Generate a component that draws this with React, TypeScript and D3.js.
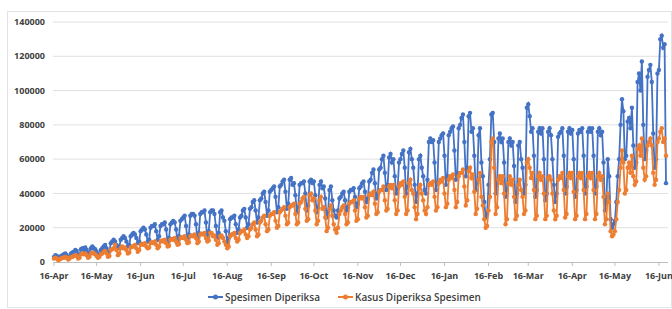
import * as d3 from "d3";

// daily data from 16 Apr 2020, values in thousands
const startDate = "2020-04-16";

const spesimenRibu = [
  3, 4, 3.5, 2, 2.5, 3.5, 4,
  4.5, 5, 4, 2.5, 3, 5, 5.5,
  6, 7, 6.5, 4, 4.5, 7.5, 8,
  7, 8.5, 7, 5, 5.5, 8, 9,
  8, 7.5, 6, 4, 4.5, 7, 8,
  9, 10, 8, 5, 6, 11, 12,
  13, 12, 10, 8, 9, 13, 14,
  15, 14, 12, 9, 10, 15, 16,
  17, 16, 14, 11, 12, 18, 19,
  20, 19, 16, 12, 13, 20, 21,
  21, 22, 18, 13, 15, 21, 22,
  22, 23, 19, 11, 14, 22, 23,
  24, 23, 19, 11, 15, 24, 25,
  26, 27, 21, 12, 16, 27, 28,
  28, 27, 22, 13, 17, 28, 29,
  29, 30, 23, 13, 18, 29, 30,
  30, 28, 21, 14, 17, 29, 30,
  26, 24, 18, 11, 14, 25, 26,
  26, 27, 22, 17, 19, 26, 27,
  30, 31, 26, 20, 22, 31, 32,
  35, 36, 30, 23, 26, 36, 37,
  40, 41, 35, 27, 30, 41, 42,
  43, 44, 38, 29, 32, 44, 45,
  47, 48, 41, 31, 34, 48, 49,
  45, 46, 39, 29, 32, 45, 46,
  46, 47, 40, 30, 33, 47, 48,
  46, 47, 39, 29, 32, 45, 47,
  43, 44, 37, 26, 29, 42, 44,
  36, 30, 27, 26, 30, 37, 38,
  40, 41, 36, 30, 32, 41, 42,
  42, 43, 38, 32, 34, 43, 44,
  46, 47, 41, 35, 37, 47, 48,
  52, 54, 46, 37, 40, 54, 55,
  60, 62, 52, 42, 45, 61, 63,
  58, 60, 50, 40, 43, 58, 60,
  63, 65, 55, 40, 44, 64, 66,
  60, 55, 45, 35, 40, 60, 62,
  55, 50, 42, 40, 48, 70, 72,
  70, 71, 58, 42, 46, 70, 72,
  74, 75, 62, 45, 50, 74, 76,
  78, 79, 65, 48, 52, 78, 80,
  84, 86, 70, 50, 55, 85, 87,
  76, 78, 62, 42, 46, 74, 78,
  58, 50, 35, 26, 28, 45, 60,
  86, 87, 70, 40, 45, 72, 75,
  70, 72, 58, 38, 42, 70, 72,
  68, 70, 56, 35, 40, 68, 70,
  60, 55, 40, 45, 90, 92, 85,
  76, 78, 62, 38, 42, 76, 78,
  75, 78, 60, 36, 40, 76, 78,
  74, 60, 45, 35, 40, 73, 75,
  76, 78, 62, 40, 44, 76, 78,
  75, 77, 60, 38, 42, 75, 77,
  76, 78, 62, 40, 44, 76, 78,
  76, 78, 62, 40, 44, 76, 78,
  74, 76, 58, 30, 35, 60, 50,
  25, 20, 22, 24, 35, 50, 60,
  80, 95, 88, 60, 62, 82, 84,
  78, 90, 68, 55, 58, 105, 110,
  100, 117, 80, 60, 65, 108, 112,
  115, 105, 75, 55, 60, 110, 112,
  130, 132, 125, 127, 46,
];

const kasusRibu = [
  2, 2.5, 2, 1, 1.5, 2, 2.5,
  2.5, 3, 2.5, 1.5, 2, 3, 3,
  3.5, 4, 3.5, 2, 2.5, 4.5, 5,
  4.5, 5, 4, 2.5, 3, 5, 5.5,
  5, 4.5, 3.5, 2.5, 3, 4.5, 5,
  6, 6.5, 5, 3, 3.5, 7, 7.5,
  8, 10, 7, 4, 5, 8, 9,
  8, 8.5, 7, 5, 5.5, 8.5, 9,
  9, 10, 8, 6, 7, 10, 10.5,
  10, 11, 9, 8, 8.5, 11, 11.5,
  11, 12, 10, 8, 9, 12, 12.5,
  12, 13, 11, 9, 9.5, 13, 13.5,
  13, 14, 12, 10, 10.5, 14, 14.5,
  14, 15, 13, 11, 11.5, 15, 15.5,
  15, 16, 14, 11, 12, 16, 16.5,
  16, 17, 14, 12, 12.5, 17, 17,
  15, 15.5, 13, 10, 11, 15, 15.5,
  14, 12, 10, 8, 9, 15, 16,
  16, 17, 14, 12, 13, 17, 18,
  18, 19, 16, 14, 15, 19, 20,
  22, 23, 19, 15, 16, 23, 24,
  26, 27, 22, 18, 19, 27, 28,
  28, 29, 24, 20, 21, 29, 30,
  31, 32, 27, 22, 23, 32, 33,
  33, 34, 28, 22, 23, 34, 35,
  37, 38, 31, 24, 25, 39, 40,
  36, 37, 30, 22, 24, 36, 38,
  31, 32, 26, 18, 20, 31, 33,
  27, 22, 19, 17, 20, 28, 30,
  32, 33, 28, 22, 23, 34, 35,
  35, 36, 30, 24, 25, 37, 38,
  37, 38, 32, 26, 27, 39, 40,
  39, 41, 34, 28, 29, 41, 42,
  42, 44, 36, 30, 31, 44, 45,
  43, 45, 36, 28, 30, 44, 46,
  45, 47, 38, 28, 30, 46, 48,
  42, 40, 32, 25, 28, 43, 45,
  40, 36, 30, 28, 32, 45, 46,
  45, 47, 38, 30, 32, 46, 48,
  47, 49, 40, 32, 34, 48, 50,
  49, 51, 42, 32, 35, 50, 52,
  52, 54, 44, 33, 36, 53, 55,
  49, 51, 41, 28, 31, 48, 52,
  38, 33, 25, 20, 21, 30, 38,
  70, 72, 55, 28, 32, 48, 50,
  46, 50, 40, 22, 25, 46, 50,
  45, 48, 38, 25, 27, 45, 48,
  42, 38, 28, 30, 58, 60, 55,
  49, 52, 42, 25, 27, 50, 52,
  48, 50, 40, 25, 27, 49, 50,
  48, 40, 30, 25, 27, 48, 50,
  49, 52, 42, 26, 28, 50, 52,
  49, 52, 41, 25, 27, 50, 52,
  49, 52, 42, 25, 28, 50, 52,
  49, 52, 42, 25, 28, 50, 52,
  48, 50, 38, 22, 25, 40, 35,
  18, 15, 16, 18, 25, 35, 42,
  55, 65, 58, 40, 42, 55, 58,
  52, 62, 50, 45, 47, 66, 68,
  62, 72, 55, 48, 50, 68, 70,
  72, 68, 52, 45, 48, 70, 72,
  76, 78, 70, 72, 62,
];

const tickDates = [
  "2020-04-16", "2020-05-16", "2020-06-16", "2020-07-16", "2020-08-16",
  "2020-09-16", "2020-10-16", "2020-11-16", "2020-12-16", "2021-01-16",
  "2021-02-16", "2021-03-16", "2021-04-16", "2021-05-16", "2021-06-16",
];
const yTicks = [0, 20000, 40000, 60000, 80000, 100000, 120000, 140000];

const seriesNames = ["Spesimen Diperiksa", "Kasus Diperiksa Spesimen"];
const colors = ["#4472C4", "#ED7D31"];

const W = 672;
const H = 309;
const parse = d3.timeParse("%Y-%m-%d");
const fmt = d3.timeFormat("%d-%b");

export default function App() {
  const start = parse(startDate)!;
  const days = spesimenRibu.map((_, i) => d3.timeDay.offset(start, i));

  const x = d3
    .scaleTime()
    .domain([start, days[days.length - 1]])
    .range([54, 666]);
  const y = d3.scaleLinear().domain([0, 140000]).range([262, 22]);

  const series = [spesimenRibu, kasusRibu].map((vals) =>
    vals.map((v, i) => ({ date: days[i], value: v * 1000 }))
  );

  const line = d3
    .line<{ date: Date; value: number }>()
    .x((d) => x(d.date))
    .y((d) => y(d.value));

  const font = "'Open Sans', 'Liberation Sans', sans-serif";

  return (
    <svg
      width={W}
      height={H}
      style={{ position: "absolute", left: 0, top: 0, background: "#fff" }}
      fontFamily={font}
    >
      <rect x={7.5} y={11.5} width={664} height={296} fill="#fff" stroke="#e3e3e3" />

      {yTicks.map((t) => (
        <g key={t}>
          {t > 0 && (
            <line x1={53} x2={668} y1={y(t)} y2={y(t)} stroke="#e0e0e0" strokeWidth={1} />
          )}
          <text
            x={45}
            y={y(t)}
            dy="0.35em"
            textAnchor="end"
            fontSize={9}
            fontWeight="bold"
            fill="#404040"
          >
            {t}
          </text>
        </g>
      ))}

      <line x1={53} x2={668} y1={262.5} y2={262.5} stroke="#bfbfbf" />
      {tickDates.map((s) => {
        const d = parse(s)!;
        return (
          <g key={s} transform={`translate(${x(d)},0)`}>
            <line y1={262} y2={266} stroke="#bfbfbf" />
            <text
              y={279}
              textAnchor="middle"
              fontSize={9}
              fontWeight="bold"
              fill="#404040"
            >
              {fmt(d)}
            </text>
          </g>
        );
      })}

      {series.map((pts, si) => (
        <g key={si}>
          <path d={line(pts)!} fill="none" stroke={colors[si]} strokeWidth={1.8} />
          {pts.map((p, i) => (
            <circle key={i} cx={x(p.date)} cy={y(p.value)} r={2.2} fill={colors[si]} />
          ))}
        </g>
      ))}

      {seriesNames.map((name, i) => {
        const lx = i === 0 ? 208 : 338;
        return (
          <g key={name} transform={`translate(${lx},297)`}>
            <line x1={0} x2={15} stroke={colors[i]} strokeWidth={2} />
            <circle cx={7.5} r={2.5} fill={colors[i]} />
            <text x={17} dy="0.35em" fontSize={10} fontWeight="600" fill="#404040">
              {name}
            </text>
          </g>
        );
      })}
    </svg>
  );
}
